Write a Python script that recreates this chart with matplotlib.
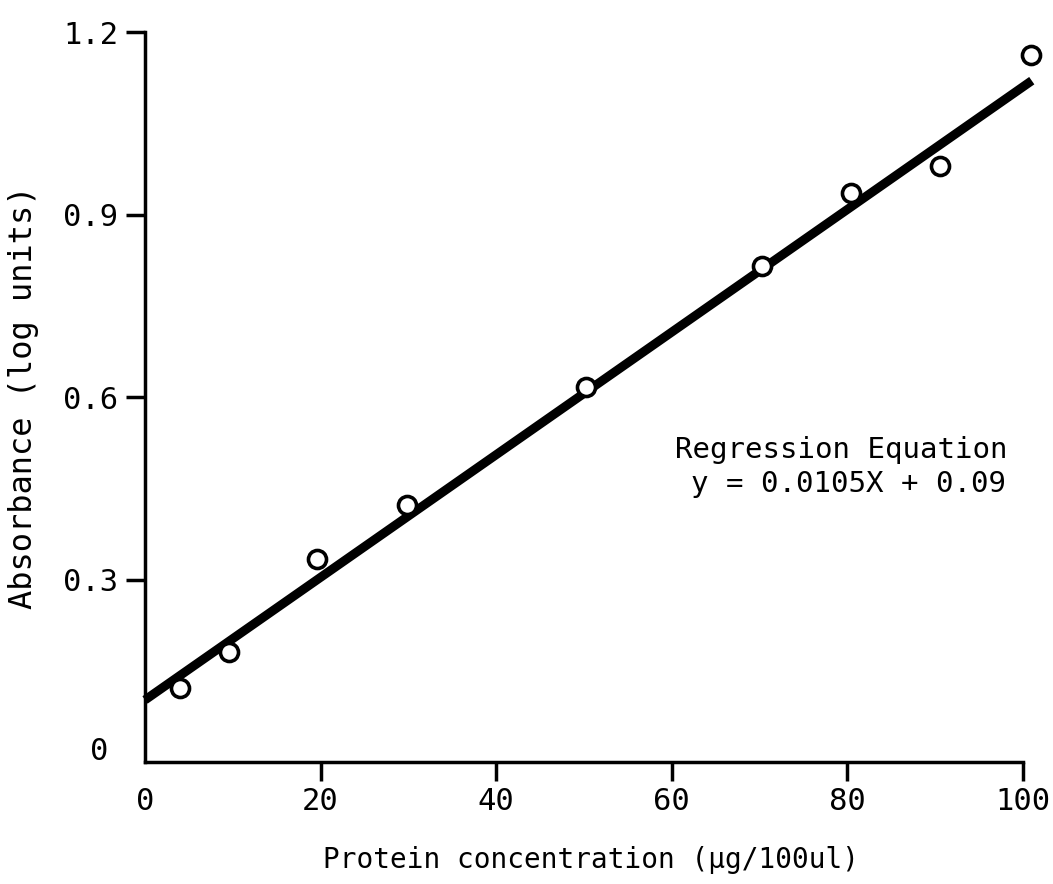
import numpy as np
import matplotlib
matplotlib.use("Agg")
from matplotlib import pyplot as plt

# data
protein_ug = [4.0, 9.6, 19.6, 29.8, 50.2, 70.3, 80.4, 90.6, 100.9]
absorbance = [0.122, 0.181, 0.334, 0.422, 0.616, 0.815, 0.935, 0.980, 1.162]

# drawn regression line (end points)
fit_x = [0, 101]
fit_y = [0.102, 1.12]

x_ticks = [0, 20, 40, 60, 80, 100]
y_ticks = [0.3, 0.6, 0.9, 1.2]
y_tick_labels = ["0.3", "0.6", "0.9", "1.2"]

plt.rcParams['font.family'] = ['DejaVu Sans Mono', 'DejaVu Sans']

fig = plt.figure(figsize=(10.53, 8.84), dpi=100)
ax = fig.add_axes([0.1377, 0.1380, 0.8338, 0.8258])

ax.plot(fit_x, fit_y, color="black", linewidth=6.5, solid_capstyle="butt",
        clip_on=False, zorder=2)
ax.plot(protein_ug, absorbance, linestyle="none", marker="o", markersize=13,
        markerfacecolor="white", markeredgecolor="black", markeredgewidth=2.6,
        clip_on=False, zorder=3)

ax.set_xlim(0, 100)
ax.set_ylim(0, 1.2)

for side in ["top", "right"]:
    ax.spines[side].set_visible(False)
for side in ["left", "bottom"]:
    ax.spines[side].set_linewidth(2.5)

ax.set_xticks(x_ticks)
ax.set_xticklabels([str(v) for v in x_ticks])
ax.set_yticks(y_ticks)
ax.set_yticklabels(y_tick_labels)
ax.tick_params(axis="both", direction="out", length=14, width=2.5,
               labelsize=22)
ax.tick_params(axis="x", pad=4)
ax.tick_params(axis="y", pad=5)
# no tick mark at the origin
ax.xaxis.get_major_ticks()[0].tick1line.set_visible(False)

# y "0" label sits a bit above the corner
ax.annotate("0", xy=(0, 0), xycoords="data", xytext=(-37, 2),
            textcoords="offset pixels", ha="right", va="baseline",
            fontsize=22)

fig.text(24 / 1053, 0.551, "Absorbance (log units)", rotation=90,
         ha="center", va="center", fontsize=23)
fig.text(591 / 1053, 0.018, "Protein concentration (\u00b5g/100ul)",
         ha="center", va="baseline", fontsize=20)

fig.text(0.957, 0.482, "Regression Equation", ha="right", va="baseline",
         fontsize=21)
fig.text(0.955, 0.443, "y = 0.0105X + 0.09", ha="right", va="baseline",
         fontsize=21)

fig.savefig("out.png", dpi=100)
